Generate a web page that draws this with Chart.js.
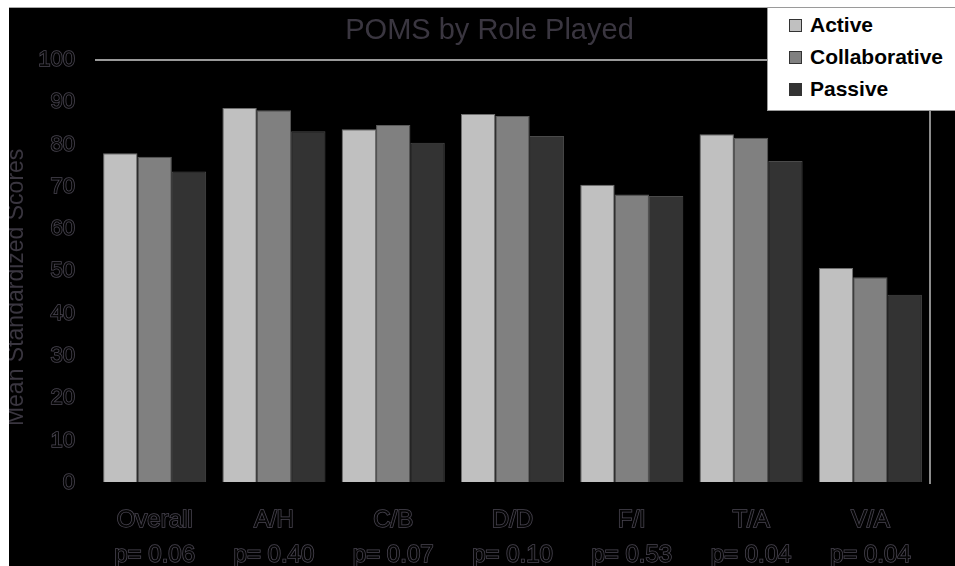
<!DOCTYPE html>
<html>
<head>
<meta charset="utf-8">
<script src="https://cdn.jsdelivr.net/npm/chart.js@4.4.1/dist/chart.umd.min.js"></script>
<style>
  html, body { margin: 0; padding: 0; background: #ffffff; overflow: hidden; width: 955px; height: 566px; }
  #frame { position: absolute; left: 9px; top: 7px; width: 946px; height: 559px; background: #000; border-top: 1px solid #a8a8a8; box-sizing: border-box; overflow: hidden; }
  #c { position: absolute; left: -6px; top: 0px; }
  #legend { position: absolute; left: 767px; top: 7px; width: 188px; height: 104px; background: #fff;
            border-top: 1px solid #9a9a9a; border-left: 1px solid #9a9a9a; border-bottom: 1px solid #9a9a9a; box-sizing: border-box;
            font-family: 'Liberation Sans', Arial, sans-serif; font-weight: bold; font-size: 21px; color: #000; }
  .item { position: absolute; left: 0; height: 32px; line-height: 32px; white-space: nowrap; }
  .sw { position: absolute; left: 21px; top: 10px; width: 13px; height: 13px; box-sizing: border-box; border: 1px solid #333; }
  .lb { position: absolute; left: 42px; top: 0; }
</style>
</head>
<body>
<div id="frame"><canvas id="c" width="973" height="580"></canvas></div>
<div id="legend"></div>
<script>
const categories = [
  ['Overall', 'p= 0.06'],
  ['A/H', 'p= 0.40'],
  ['C/B', 'p= 0.07'],
  ['D/D', 'p= 0.10'],
  ['F/I', 'p= 0.53'],
  ['T/A', 'p= 0.04'],
  ['V/A', 'p= 0.04']
];
const seriesNames = ['Active', 'Collaborative', 'Passive'];
const activeValues = [77.9, 88.6, 83.6, 87.2, 70.5, 82.4, 50.8];
const collaborativeValues = [77.1, 88.1, 84.6, 86.7, 68.2, 81.6, 48.6];
const passiveValues = [73.6, 83.1, 80.4, 82.0, 67.8, 76.1, 44.5];
const yTickValues = [0, 10, 20, 30, 40, 50, 60, 70, 80, 90, 100];
const chartTitle = 'POMS by Role Played';
const yAxisTitle = 'Mean Standardized Scores';

const barColors = ['#c0c0c0', '#808080', '#333333'];
const barBorders = ['#6e6e6e', '#5a5a5a', '#4a4a4a'];
const FONT = "'Liberation Sans', Arial, sans-serif";
const darkText = '#3a3640';

const seriesValues = [activeValues, collaborativeValues, passiveValues];
const datasets = seriesNames.map((name, i) => ({
  label: name,
  data: seriesValues[i],
  backgroundColor: barColors[i],
  borderColor: barBorders[i],
  borderWidth: 1,
  categoryPercentage: 0.864,
  barPercentage: 1.0,
  yAxisID: 'y'
}));

const chart = new Chart(document.getElementById('c'), {
  type: 'bar',
  data: { labels: categories, datasets },
  options: {
    responsive: false,
    animation: false,
    devicePixelRatio: 1,
    layout: { padding: 0 },
    plugins: {
      legend: { display: false },
      tooltip: { enabled: false },
      title: {
        display: true,
        text: chartTitle,
        color: darkText,
        font: { family: FONT, size: 29, weight: 'normal', lineHeight: 1.2 },
        padding: { top: 6, bottom: 11 }
      }
    },
    scales: {
      x: {
        grid: { display: false },
        border: { display: false },
        ticks: {
          color: '#050505',
          textStrokeColor: '#4a4652',
          textStrokeWidth: 1.5,
          font: { family: FONT, size: 24, lineHeight: 1.45 },
          padding: 12,
          maxRotation: 0,
          autoSkip: false
        },
        afterFit: (s) => { s.height = 105; }
      },
      y: {
        position: 'left',
        min: 0,
        max: 100,
        afterBuildTicks: (s) => { s.ticks = yTickValues.map(v => ({ value: v })); },
        grid: {
          drawTicks: false,
          color: (ctx) => (ctx.tick && ctx.tick.value === 100) ? '#9a9a9a' : 'rgba(0,0,0,0)',
          lineWidth: 2
        },
        border: { display: false },
        ticks: {
          color: '#050505',
          textStrokeColor: '#4a4652',
          textStrokeWidth: 1.5,
          font: { family: FONT, size: 22 },
          padding: 20
        },
        title: {
          display: true,
          text: yAxisTitle + '     ',
          color: darkText,
          font: { family: FONT, size: 23, lineHeight: 1.2 },
          padding: { top: 0, bottom: 0 }
        },
        afterFit: (s) => { s.width = 92; }
      },
      yR: {
        position: 'right',
        min: 0,
        max: 100,
        grid: { display: false, drawTicks: false },
        border: { display: true, color: '#8c8c8c', width: 2 },
        ticks: { display: false },
        afterFit: (s) => { s.width = 46; }
      }
    }
  }
});

// HTML legend built from the chart's datasets
const legendEl = document.getElementById('legend');
chart.data.datasets.forEach((ds, i) => {
  const row = document.createElement('div');
  row.className = 'item';
  row.style.top = (1 + i * 32) + 'px';
  const sw = document.createElement('span');
  sw.className = 'sw';
  sw.style.background = ds.backgroundColor;
  const lb = document.createElement('span');
  lb.className = 'lb';
  lb.textContent = ds.label;
  row.appendChild(sw);
  row.appendChild(lb);
  legendEl.appendChild(row);
});
</script>
</body>
</html>
